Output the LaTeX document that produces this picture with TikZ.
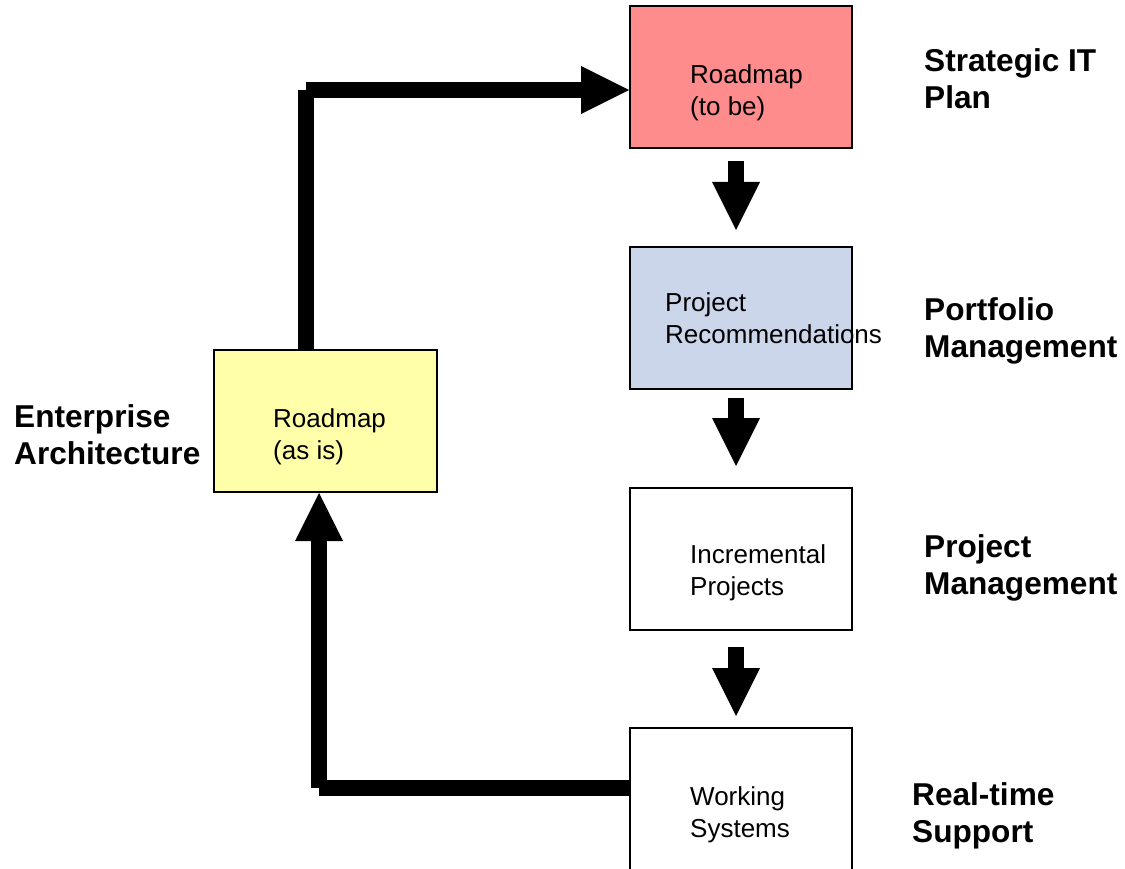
\documentclass[tikz,border=0pt]{standalone}
\usepackage{fontspec}
\setmainfont{Liberation Sans}
\usetikzlibrary{arrows.meta}
\definecolor{planpink}{RGB}{255,140,140}
\definecolor{portblue}{RGB}{204,214,234}
\definecolor{archyellow}{RGB}{255,255,170}
\tikzset{
  stage/.style={draw=black, line width=2pt, minimum width=222pt, minimum height=142pt, inner sep=0pt},
  boxtext/.style={anchor=west, align=left, inner sep=0pt, font=\fontsize{26}{32}\selectfont},
  layer/.style={anchor=west, align=left, inner sep=0pt, font=\fontsize{31.6}{37}\selectfont\bfseries},
  shaft/.style={line width=15.5pt, line cap=butt, line join=miter},
  bigtip/.style={-{Triangle[length=48pt,width=48pt,line width=0pt]}},
}
\begin{document}
\begin{tikzpicture}[x=1pt,y=-1pt]
\useasboundingbox (0,0) rectangle (1125,869);
\clip (0,0) rectangle (1125,869);

% stage boxes
\node[stage, fill=planpink]   (plan)  at (741,77.5) {};
\node[stage, fill=portblue]   (port)  at (741,318)  {};
\node[stage, fill=white]      (proj)  at (741,559)  {};
\node[stage, fill=white]      (work)  at (741,799)  {};
\node[stage, fill=archyellow, minimum width=223pt] (arch) at (325.5,421) {};

% box captions
\node[boxtext] (plantext) at (690,93)  {Roadmap\\(to be)};
\node[boxtext] (porttext) at (665,318) {Project\\Recommendations};
\node[boxtext] (projtext) at (690,573) {Incremental\\Projects};
\node[boxtext] (worktext) at (690,815) {Working\\Systems};
\node[boxtext] (archtext) at (273,437) {Roadmap\\(as is)};

% layer labels
\node[layer] (l1) at (924,79)  {Strategic IT\\Plan};
\node[layer] (l2) at (924,331) {Portfolio\\Management};
\node[layer] (l3) at (924,568) {Project\\Management};
\node[layer] (l4) at (912,816) {Real-time\\Support};
\node[layer] (l5) at (14,435)  {Enterprise\\Architecture};

% feedback loop: working systems -> as-is roadmap -> to-be roadmap
\coordinate (topbend) at (306,90);
\coordinate (lowbend) at (319,788);
\draw[shaft] (topbend |- arch.north) -- (topbend);
\draw[shaft, bigtip] (topbend) -- (topbend -| plan.west);
\draw[shaft] (work.west |- lowbend) -- (lowbend);
\draw[shaft, bigtip] (lowbend) -- (lowbend |- arch.south);

% downward flow between stages
\draw[shaft, bigtip, shorten <=12pt, shorten >=16pt]
  ([xshift=-5pt]plan.south) -- ([xshift=-5pt]port.north);
\draw[shaft, bigtip, shorten <=8pt, shorten >=21pt]
  ([xshift=-5pt]port.south) -- ([xshift=-5pt]proj.north);
\draw[shaft, bigtip, shorten <=16pt, shorten >=11pt]
  ([xshift=-5pt]proj.south) -- ([xshift=-5pt]work.north);
\end{tikzpicture}
\end{document}
